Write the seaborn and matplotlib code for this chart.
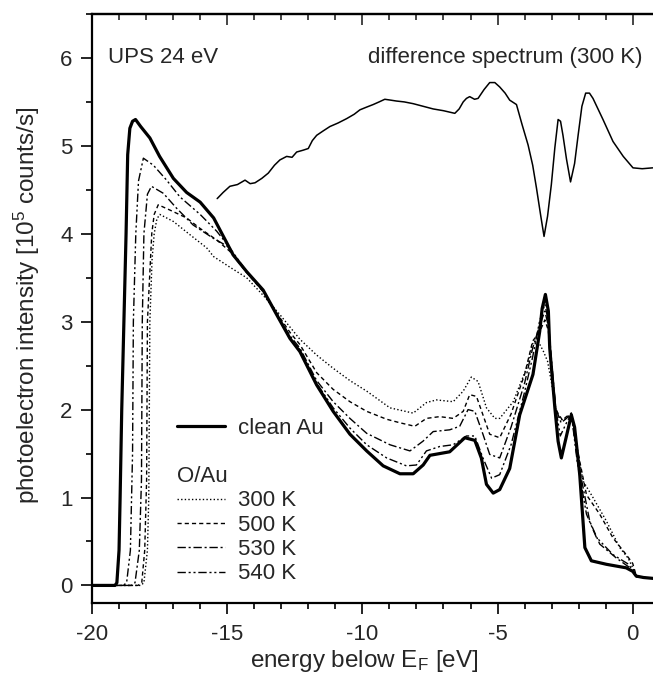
import numpy as np
import pandas as pd
import matplotlib
matplotlib.use("Agg")
import matplotlib.pyplot as plt
from matplotlib.ticker import MultipleLocator
from matplotlib.lines import Line2D
import seaborn as sns

sns.set_style("ticks")
plt.rcParams["font.family"] = ["Liberation Sans", "DejaVu Sans"]
plt.rcParams["mathtext.fontset"] = "custom"
plt.rcParams["mathtext.rm"] = "Liberation Sans"
plt.rcParams["mathtext.it"] = "Liberation Sans:italic"
plt.rcParams["axes.unicode_minus"] = False

# ---------------- data ----------------
clean_x = [-20.0, -19.5, -19.15, -19.08, -19.0, -18.96, -18.90, -18.82, -18.74, -18.68,
           -18.60, -18.50, -18.39, -18.20, -17.86, -17.50, -16.99, -16.50, -16.0, -15.5,
           -15.02, -14.78, -14.28, -13.67, -13.17, -12.68, -12.31, -11.69, -11.08,
           -10.46, -9.84, -9.23, -8.61, -8.12, -7.75, -7.50, -6.77, -6.21, -5.84,
           -5.60, -5.41, -5.16, -4.92, -4.55, -4.18, -3.69, -3.44, -3.35, -3.23,
           -3.12, -3.07, -2.88, -2.76, -2.64, -2.45, -2.27, -2.15, -1.96, -1.77,
           -1.53, -0.97, -0.24, 0.0, 0.13, 0.4, 0.75]
clean_y = [0.0, 0.0, 0.0, 0.03, 0.4, 1.0, 2.0, 3.0, 4.0, 4.9,
           5.20, 5.28, 5.30, 5.22, 5.09, 4.88, 4.63, 4.47, 4.36, 4.18,
           3.90, 3.76, 3.57, 3.36, 3.08, 2.81, 2.66, 2.28, 1.98,
           1.72, 1.53, 1.36, 1.27, 1.27, 1.37, 1.48, 1.52, 1.68, 1.65,
           1.45, 1.15, 1.05, 1.09, 1.33, 1.94, 2.40, 2.89, 3.15, 3.31,
           3.12, 2.70, 2.02, 1.64, 1.45, 1.70, 1.94, 1.80, 1.26, 0.43,
           0.28, 0.24, 0.20, 0.16, 0.106, 0.09, 0.08]

k300_x = [-20.0, -18.2, -18.08, -17.95, -17.90, -17.86, -17.78, -17.70, -17.60, -17.49,
          -16.99, -16.38, -15.76, -15.50, -14.90, -14.28, -13.67, -13.05, -12.31, -11.69,
          -11.08, -10.46, -9.84, -8.98, -8.12, -7.63, -7.26, -6.64, -6.27, -5.97,
          -5.72, -5.41, -5.10, -4.92, -4.42, -3.93, -3.69, -3.50, -3.30, -3.15,
          -3.0, -2.82, -2.60, -2.45, -2.27, -2.05, -1.84, -1.47, -0.97, -0.48,
          -0.17, 0.0, 0.13, 0.4, 0.75]
k300_y = [0.0, 0.0, 0.03, 0.4, 1.0, 3.0, 3.7, 4.0, 4.17, 4.22,
          4.14, 3.99, 3.84, 3.74, 3.62, 3.50, 3.30, 3.08, 2.80, 2.62,
          2.47, 2.33, 2.21, 2.02, 1.96, 2.08, 2.11, 2.09, 2.21, 2.37,
          2.32, 2.02, 1.90, 1.90, 2.09, 2.47, 2.76, 2.78, 2.66, 2.55,
          2.30, 1.94, 1.88, 1.90, 1.94, 1.55, 1.19, 1.00, 0.73, 0.43,
          0.31, 0.20, 0.10, 0.09, 0.08]

k500_x = [-20.0, -18.3, -18.16, -18.05, -17.98, -17.95, -17.79, -17.70, -17.55, -17.12,
          -16.50, -16.0, -15.39, -14.9, -14.28, -13.67, -13.17, -12.68, -12.31, -11.69,
          -11.08, -10.46, -9.84, -9.1, -8.61, -8.06, -7.63, -7.14, -6.64, -6.27,
          -6.03, -5.78, -5.54, -5.29, -4.92, -4.50, -4.0, -3.70, -3.45, -3.25,
          -3.12, -3.0, -2.85, -2.6, -2.45, -2.27, -2.05, -1.71, -1.22, -0.73,
          -0.24, 0.0, 0.13, 0.4, 0.75]
k500_y = [0.0, 0.0, 0.03, 0.4, 1.2, 3.0, 4.0, 4.22, 4.33, 4.27,
          4.18, 4.06, 3.93, 3.80, 3.56, 3.34, 3.10, 2.88, 2.74, 2.42,
          2.23, 2.09, 1.98, 1.89, 1.85, 1.81, 1.90, 1.92, 1.90, 1.98,
          2.17, 2.15, 1.94, 1.72, 1.68, 1.95, 2.40, 2.78, 2.88, 3.02,
          2.90, 2.45, 2.0, 1.88, 1.92, 1.96, 1.55, 1.03, 0.81, 0.54,
          0.35, 0.25, 0.11, 0.09, 0.08]

k530_x = [-20.0, -18.55, -18.41, -18.25, -18.17, -18.14, -18.08, -17.95, -17.80, -17.36,
          -16.87, -16.26, -15.52, -15.0, -14.28, -13.67, -13.17, -12.68, -12.31, -11.69,
          -11.08, -10.46, -9.84, -8.98, -8.24, -7.76, -7.38, -6.77, -6.40, -6.09,
          -5.84, -5.54, -5.29, -4.92, -4.50, -4.0, -3.70, -3.45, -3.25, -3.12,
          -3.0, -2.85, -2.65, -2.45, -2.27, -2.05, -1.59, -1.22, -0.60, -0.10,
          0.13, 0.4, 0.75]
k530_y = [0.0, 0.0, 0.03, 0.4, 1.2, 3.0, 4.0, 4.45, 4.54, 4.46,
          4.29, 4.10, 3.95, 3.86, 3.56, 3.35, 3.09, 2.84, 2.70, 2.33,
          2.09, 1.90, 1.73, 1.60, 1.53, 1.64, 1.75, 1.77, 1.81, 2.00,
          1.98, 1.72, 1.49, 1.45, 1.80, 2.30, 2.70, 2.95, 3.12, 2.95,
          2.50, 2.02, 1.85, 1.90, 1.96, 1.45, 0.73, 0.47, 0.31, 0.20,
          0.10, 0.09, 0.08]

k540_x = [-20.0, -18.85, -18.72, -18.58, -18.50, -18.47, -18.38, -18.28, -18.10, -17.73,
          -17.24, -16.75, -16.0, -15.39, -15.0, -14.28, -13.67, -13.17, -12.68, -12.31,
          -11.69, -11.08, -10.46, -9.84, -9.1, -8.37, -8.0, -7.63, -7.14, -6.64,
          -6.15, -5.84, -5.54, -5.22, -4.92, -4.50, -4.0, -3.70, -3.45, -3.25,
          -3.12, -3.0, -2.85, -2.68, -2.45, -2.27, -2.05, -1.71, -1.35, -0.73,
          -0.15, 0.13, 0.4, 0.75]
k540_y = [0.0, 0.0, 0.03, 0.4, 1.5, 3.0, 4.0, 4.6, 4.86, 4.78,
          4.61, 4.42, 4.22, 4.03, 3.88, 3.57, 3.35, 3.08, 2.82, 2.68,
          2.30, 2.02, 1.79, 1.60, 1.45, 1.36, 1.37, 1.53, 1.58, 1.60,
          1.70, 1.70, 1.45, 1.22, 1.26, 1.60, 2.20, 2.60, 3.00, 3.20,
          3.00, 2.55, 2.02, 1.70, 1.85, 1.95, 1.40, 0.81, 0.55, 0.35,
          0.24, 0.10, 0.09, 0.08]

diff_x = [-15.37, -15.15, -14.90, -14.62, -14.34, -14.15, -13.97, -13.72, -13.48, -13.25,
          -13.05, -12.80, -12.60, -12.43, -12.20, -12.0, -11.85, -11.69, -11.45, -11.2,
          -10.9, -10.58, -10.3, -10.09, -9.85, -9.60, -9.38, -9.17, -8.95, -8.74,
          -8.45, -8.12, -7.75, -7.38, -7.0, -6.58, -6.42, -6.27, -6.15, -6.03,
          -5.85, -5.72, -5.50, -5.29, -5.10, -4.92, -4.72, -4.55, -4.30, -4.10,
          -3.87, -3.70, -3.56, -3.40, -3.28, -3.15, -3.01, -2.88, -2.76, -2.67,
          -2.58, -2.45, -2.30, -2.15, -2.02, -1.88, -1.74, -1.60, -1.47, -1.10,
          -0.73, -0.35, 0.01, 0.35, 0.74]
diff_y = [4.40, 4.47, 4.54, 4.56, 4.61, 4.57, 4.58, 4.63, 4.69, 4.78,
          4.84, 4.88, 4.87, 4.93, 4.95, 4.97, 5.06, 5.12, 5.17, 5.22,
          5.26, 5.31, 5.36, 5.41, 5.44, 5.47, 5.50, 5.53, 5.52, 5.51,
          5.50, 5.48, 5.45, 5.42, 5.40, 5.37, 5.42, 5.50, 5.54, 5.56,
          5.53, 5.54, 5.64, 5.72, 5.72, 5.67, 5.60, 5.52, 5.47, 5.25,
          5.01, 4.78, 4.52, 4.20, 3.97, 4.20, 4.56, 4.98, 5.30, 5.28,
          5.12, 4.85, 4.59, 4.80, 5.12, 5.45, 5.60, 5.60, 5.54, 5.30,
          5.05, 4.88, 4.75, 4.74, 4.75]

legend_labels = ["clean Au", "300 K", "500 K", "530 K", "540 K"]

# ---------------- figure ----------------
fig = plt.figure(figsize=(6.53, 6.75), dpi=100)
ax = fig.add_axes([92 / 653, 72 / 675, 561 / 653, 589 / 675])

lw_thin = 1.0
sns.lineplot(x=clean_x, y=clean_y, ax=ax, color="black", lw=2.3, sort=False)
styles = [(0, (1, 1.6)), (0, (3, 2.2)), (0, (6, 2, 1.5, 2)), (0, (6, 2, 1.5, 2, 1.5, 2))]
series = [(k300_x, k300_y), (k500_x, k500_y), (k530_x, k530_y), (k540_x, k540_y)]
for (xs, ys), ls in zip(series, styles):
    sns.lineplot(x=xs, y=ys, ax=ax, color="black", lw=lw_thin, sort=False, linestyle=ls)
sns.lineplot(x=diff_x, y=diff_y, ax=ax, color="black", lw=1.1, sort=False)

ax.set_xlim(-20, 0.75)
ax.set_ylim(-0.2, 6.5)

# ticks
ax.xaxis.set_major_locator(MultipleLocator(5))
ax.xaxis.set_minor_locator(MultipleLocator(1))
ax.yaxis.set_major_locator(MultipleLocator(1))
ax.yaxis.set_minor_locator(MultipleLocator(0.5))
ax.tick_params(axis="both", which="major", direction="out", length=8, width=1.2,
               labelsize=16, color="black")
ax.tick_params(axis="both", which="minor", direction="out", length=4, width=1.2, color="black")
ax.tick_params(axis="x", which="major", pad=7)
ax.tick_params(axis="y", which="major", pad=6)
for sp in ["left", "bottom", "top"]:
    ax.spines[sp].set_linewidth(1.6)
    ax.spines[sp].set_color("black")
ax.spines["right"].set_visible(False)

sec = ax.secondary_xaxis("top")
sec.xaxis.set_major_locator(MultipleLocator(5))
sec.xaxis.set_minor_locator(MultipleLocator(1))
sec.tick_params(axis="x", which="major", direction="in", length=8, width=1.2, labeltop=False)
sec.tick_params(axis="x", which="minor", direction="in", length=4, width=1.2)
sec.spines["top"].set_linewidth(1.6)

ax.set_xlabel("energy below E$_\\mathrm{F}$ [eV]", fontsize=17.5)
ax.set_ylabel("photoelectron intensity [10$^\\mathrm{5}$ counts/s]", fontsize=17.5)
ax.xaxis.set_label_coords(0.485, -0.076)
ax.yaxis.set_label_coords(-0.089, 0.506)

ax.text(-19.4, 6.0, "UPS 24 eV", fontsize=16, ha="left", va="center")
ax.text(0.37, 6.0, "difference spectrum (300 K)", fontsize=16, ha="right", va="center")

# legends
h_clean = Line2D([], [], color="black", lw=2.3)
leg1 = ax.legend([h_clean], [legend_labels[0]], loc="upper left", bbox_to_anchor=(0.1515, 0.314),
                 frameon=False, fontsize=16, handlelength=2.15, handletextpad=0.6,
                 borderpad=0, borderaxespad=0)
ax.add_artist(leg1)
hs = [Line2D([], [], color="black", lw=lw_thin, linestyle=ls) for ls in styles]
leg2 = ax.legend(hs, legend_labels[1:], loc="upper left", bbox_to_anchor=(0.1515, 0.2324),
                 frameon=False, fontsize=16, handlelength=2.15, handletextpad=0.6,
                 borderpad=0, borderaxespad=0, title="O/Au", title_fontsize=16,
                 alignment="left", labelspacing=0.15)

fig.savefig("out.png", dpi=100)
